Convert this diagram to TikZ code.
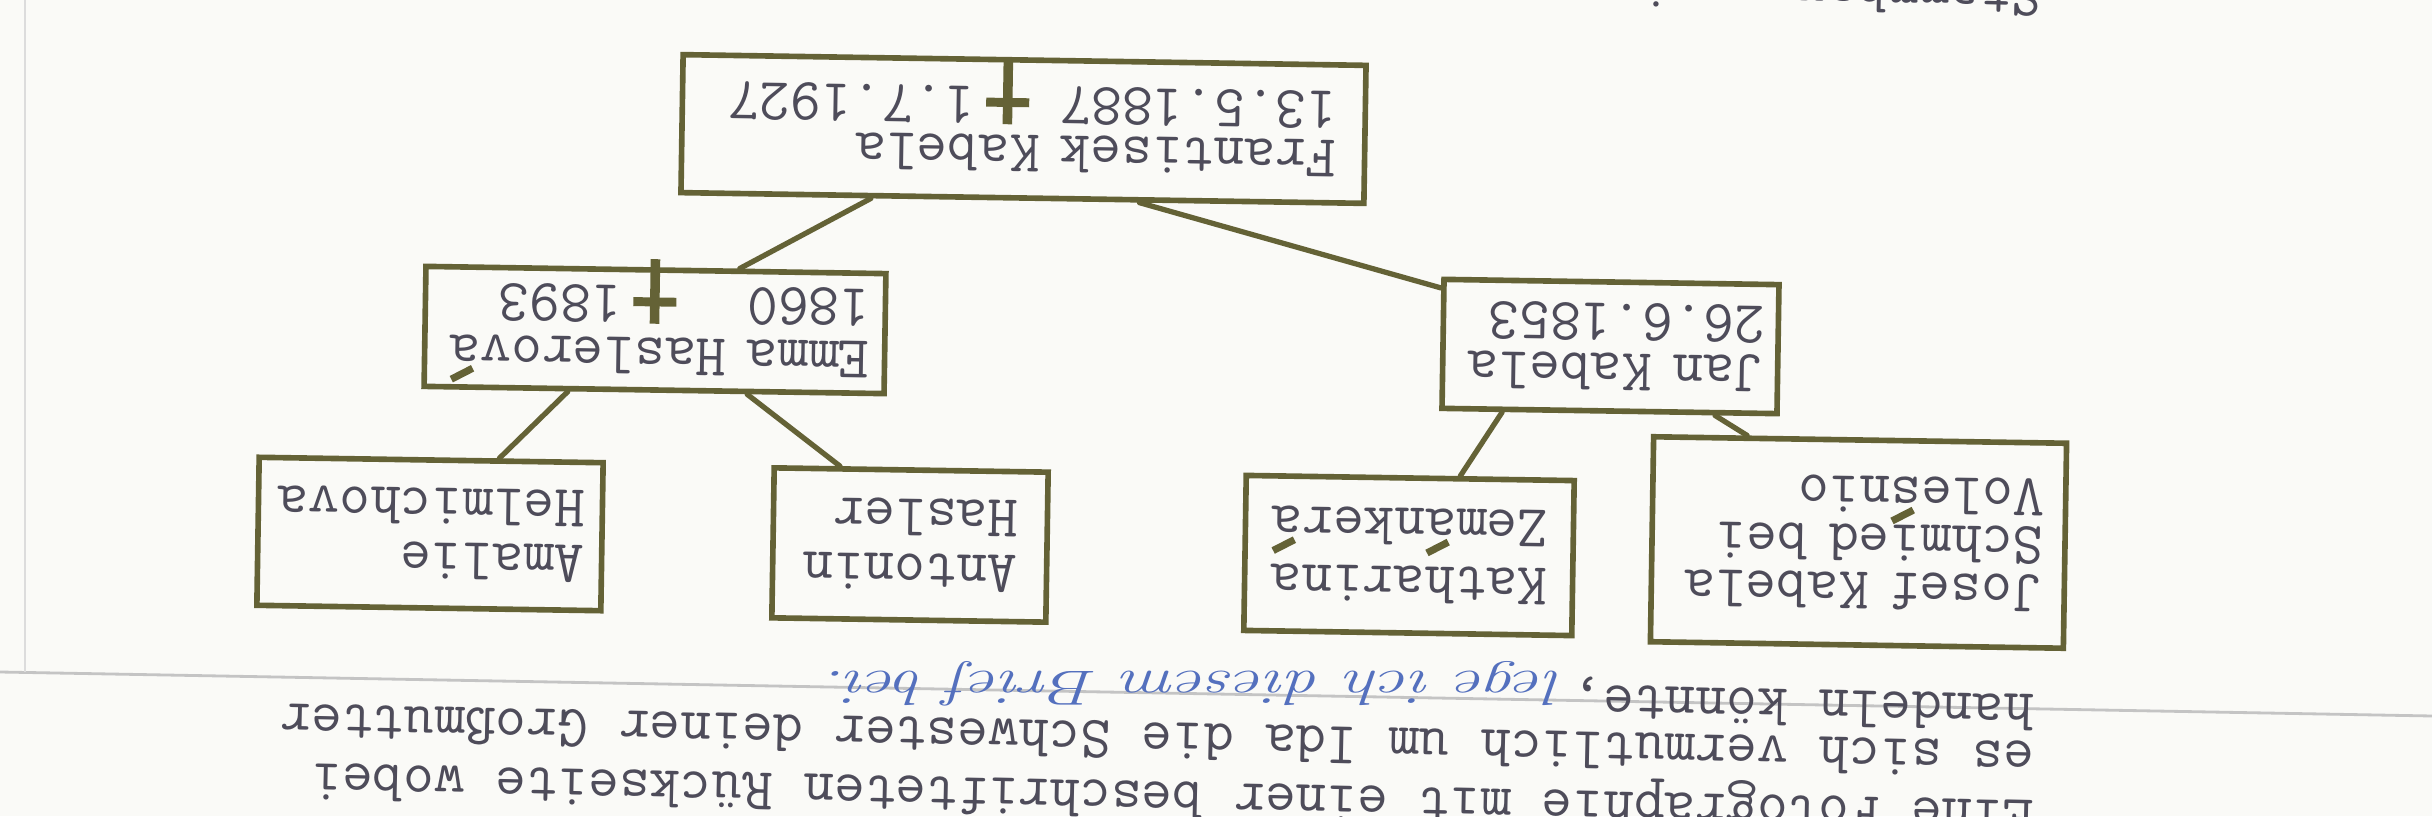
\documentclass[tikz,border=0pt]{standalone}
\usepackage{tikz}
\usetikzlibrary{calc}
\definecolor{ink}{RGB}{100,98,54}
\definecolor{typ}{RGB}{78,76,90}
\definecolor{blau}{RGB}{84,112,190}
\definecolor{papier}{RGB}{250,250,247}
\definecolor{falz}{RGB}{196,196,196}
\newcommand{\schrift}[1]{\fontsize{17}{#1}\selectfont\ttfamily}
\newcommand{\kreuz}{\makebox[1.1em]{\smash{\textcolor{ink}{\makebox[0pt]{\rule[-0.45em]{0.16em}{1.08em}}\makebox[0pt]{\rule[0.19em]{0.72em}{0.15em}}}}}}
\newcommand{\akut}[1]{\makebox[0pt][l]{\hspace{0.1em}\smash{\raisebox{0.5em}{\textcolor{ink}{\rotatebox{28}{\rule{0.4em}{0.12em}}}}}}#1}
\tikzset{kasten/.style={draw=ink, line width=1.6pt, text=typ, align=left, inner ysep=0.5mm, rotate=-0.9, font=\schrift{15}},
  zeile/.style={text=typ, inner sep=0pt, anchor=base west, rotate=-1.25, font=\schrift{15}},
  hand/.style={text=blau, inner sep=0pt, anchor=base west, xscale=1.4, font=\fontsize{14}{14}\selectfont\itshape},
  linie/.style={draw=ink, line width=1.5pt, line cap=round}}

\begin{document}
\begin{tikzpicture}
	\useasboundingbox[fill=papier] (0,0) rectangle (24.32,8.16);
	% the sheet lies upside down
	\begin{scope}[rotate around={180:(12.16,4.08)}, transform shape]
	\draw[falz, line width=0.8pt] (24.32,6.72) -- (0,7.16);
	\draw[falz!60, line width=0.6pt] (24.07,0) -- (24.07,6.72);
	
	\node[kasten, text width=6.27cm, inner xsep=2.8mm, minimum height=1.38cm, font=\schrift{13.8}] (fk) at (14.085,1.29) {Frantisek Kabela\\13.5.1887 \kreuz1.7.1927};
	\node[kasten, text width=4.30cm, inner xsep=1.5mm, minimum height=1.20cm, font=\schrift{14.8}] (eh) at (17.77,3.30) {Emma Haslerov\akut{a}\\1860~~~\kreuz1893};
	\node[kasten, text width=3.09cm, inner xsep=1.3mm, minimum height=1.29cm, font=\schrift{14.2}] (jk) at (8.215,3.465) {Jan Kabela\\26.6.1853};
	
	\node[kasten, text width=3.10cm, inner xsep=1.7mm, minimum height=1.48cm, font=\schrift{15.6}] (ah) at (20.02,5.34) {Amalie\\Helmichova};
	\node[kasten, text width=2.16cm, inner xsep=2.9mm, minimum height=1.50cm, font=\schrift{15.6}] (an) at (15.22,5.45) {Antonin\\Hasler};
	\node[kasten, text width=2.78cm, inner xsep=2.5mm, minimum height=1.55cm, font=\schrift{16.5}] (kz) at (10.23,5.555) {Katharina\\Zem\akut{a}nker\akut{a}};
	\node[kasten, text width=3.70cm, inner xsep=2.15mm, minimum height=2.05cm, font=\schrift{13.7}] (jo) at (5.735,5.425) {Josef Kabela\\Schmied bei\\Vole\akut{s}nio};
	
	\draw[linie] ($(fk.north west)!.72!(fk.north east)$) -- ($(eh.south west)!.32!(eh.south east)$);
	\draw[linie] ($(fk.north west)!.33!(fk.north east)$) -- ($(jk.south east)!.085!(jk.north east)$);
	\draw[linie] ($(eh.north west)!.685!(eh.north east)$) -- ($(ah.south west)!.305!(ah.south east)$);
	\draw[linie] ($(eh.north west)!.30!(eh.north east)$) -- ($(an.south west)!.755!(an.south east)$);
	\draw[linie] ($(jk.north west)!.815!(jk.north east)$) -- ($(kz.south west)!.35!(kz.south east)$);
	\draw[linie] ($(jk.north west)!.19!(jk.north east)$) -- ($(jo.south west)!.77!(jo.south east)$);
	
	\node[zeile] (z1) at (3.97,8.01) {Eine Fotographie mit einer beschrifteten Rückseite wobei};
	\node[zeile] (z2) at (3.97,7.42) {es sich vermutlich um Ida die Schwester deiner Großmutter};
	\node[zeile] (z3) at (3.97,6.95) {handeln könnte,};
	\node[hand] (brief) at ($(z3.base east)+(0.08,-0.13)$) {lege ich diesem Brief bei.};
	\node[zeile] (kopf) at (3.90,-0.20) {Stammbaum mei};
	\end{scope}
\end{tikzpicture}
\end{document}
